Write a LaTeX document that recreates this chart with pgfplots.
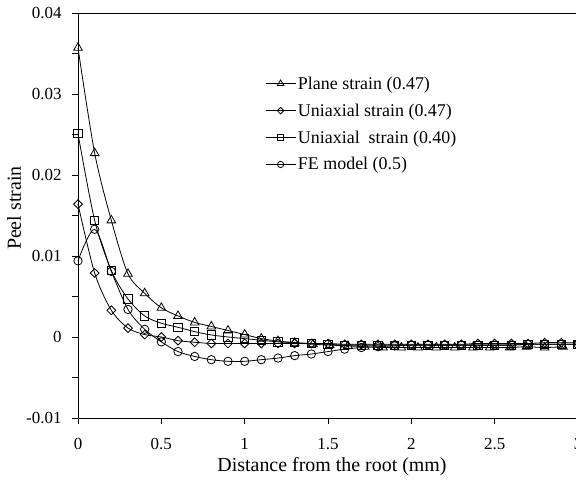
\documentclass[border=0pt]{standalone}
\usepackage{fontspec}
\setmainfont{Liberation Serif}
\usepackage{pgfplots}
\pgfplotsset{compat=1.18}
\begin{document}
\begin{tikzpicture}
\begin{axis}[
  at={(0,0)}, anchor=south west,
  scale only axis, width=500bp, height=405bp,
  xmin=0, xmax=3, ymin=-0.01, ymax=0.04,
  clip=false,
  axis line style={line width=0.9bp},
  xtick={0,0.5,1,1.5,2,2.5,3},
  xticklabels={0,0.5,1,1.5,2,2.5,3},
  ytick={-0.01,0,0.01,0.02,0.03,0.04},
  yticklabels={-0.01,0,0.01,0.02,0.03,0.04},
  minor ytick={-0.005,0.005,0.015,0.025,0.035},
  scaled y ticks=false, scaled x ticks=false,
  tick align=outside, xtick pos=bottom, ytick pos=left,
  major tick length=6bp, minor tick length=6bp,
  tick style={line width=0.9bp, black},
  /pgf/number format/assume math mode=true,
  tick label style={font=\fontsize{17}{17}\selectfont},
  yticklabel style={anchor=east, xshift=-7bp},
  xticklabel style={yshift=-11bp},
  every axis x label/.style={at={(axis description cs:0.508,-0.121)},anchor=center},
  every axis y label/.style={at={(axis description cs:-0.128,0.518)},rotate=90,anchor=center},
  label style={font=\fontsize{20}{20}\selectfont},
  xlabel={Distance from the root (mm)},
  ylabel={Peel strain},
  legend style={at={(axis description cs:0.374,0.848)}, anchor=north west, draw=none, fill=none,
    font=\fontsize{18}{18}\selectfont, row sep=9bp, inner sep=0pt},
  legend cell align=left,
  legend image code/.code={\draw[mark repeat=2,mark phase=2,#1,/tikz/every mark/.append style={scale=0.75}] plot coordinates {(0bp,0bp) (15bp,0bp) (30bp,0bp)};},
  every axis plot/.append style={black, line width=0.8bp, smooth, tension=0.5},
]
\addplot[mark=triangle, mark size=5bp, mark options={solid, line width=0.8bp}] coordinates {
(0,0.0357) (0.1,0.0227) (0.2,0.0144) (0.3,0.0078) (0.4,0.0054) (0.5,0.0036)
(0.6,0.0026) (0.7,0.0018) (0.8,0.0013) (0.9,0.0008) (1.0,0.0003) (1.1,-0.0002)
(1.2,-0.0005) (1.3,-0.0007) (1.41,-0.0009) (1.51,-0.0010) (1.62,-0.0011) (1.72,-0.0012)
(1.83,-0.0013) (1.94,-0.0013) (2.04,-0.0013) (2.15,-0.0013) (2.26,-0.0013) (2.37,-0.0013)
(2.47,-0.0013) (2.59,-0.0013) (2.69,-0.0012) (2.80,-0.0013) (2.91,-0.0012)
};
\addlegendentry{Plane strain (0.47)}
\addplot[mark=square, mark size=3.1bp, mark options={solid, rotate=45, line width=0.8bp}] coordinates {
(0,0.0164) (0.1,0.0079) (0.2,0.0033) (0.3,0.0011) (0.4,0.0003) (0.5,0.0000)
(0.6,-0.00045) (0.7,-0.00065) (0.8,-0.0008) (0.9,-0.0008) (1.0,-0.0008) (1.1,-0.0008)
(1.2,-0.0008) (1.3,-0.0008) (1.4,-0.0008) (1.5,-0.0008) (1.6,-0.0009) (1.7,-0.0009)
(1.8,-0.0009) (1.9,-0.0009) (2.0,-0.0009) (2.1,-0.0009) (2.2,-0.0009) (2.3,-0.0009)
(2.4,-0.0008) (2.5,-0.0008) (2.6,-0.0008) (2.7,-0.0008) (2.8,-0.0007) (2.9,-0.0007) (3.0,-0.0007)
};
\addlegendentry{Uniaxial strain (0.47)}
\addplot[mark=square, mark size=4.2bp, mark options={solid, line width=0.8bp}] coordinates {
(0,0.0251) (0.1,0.0144) (0.2,0.0082) (0.3,0.0047) (0.4,0.0026) (0.5,0.0017)
(0.6,0.0012) (0.7,0.00066) (0.8,0.00025) (0.9,0.0000) (1.0,-0.0002) (1.1,-0.0004)
(1.2,-0.0006) (1.3,-0.0007) (1.4,-0.0008) (1.5,-0.0009) (1.6,-0.0010) (1.7,-0.0010)
(1.8,-0.0010) (1.9,-0.0010) (2.0,-0.0010) (2.1,-0.0010) (2.2,-0.0010) (2.3,-0.0010)
(2.4,-0.0010) (2.5,-0.0010) (2.6,-0.0010) (2.7,-0.0009) (2.8,-0.0009) (2.9,-0.0009) (3.0,-0.0009)
};
\addlegendentry{Uniaxial\ \ strain (0.40)}
\addplot[mark=o, mark size=4.2bp, mark options={solid, line width=0.8bp}] coordinates {
(0,0.0094) (0.1,0.0133) (0.2,0.0081) (0.3,0.0034) (0.4,0.00095) (0.5,-0.0006)
(0.6,-0.0018) (0.7,-0.0024) (0.8,-0.0028) (0.9,-0.0030) (1.0,-0.0030) (1.1,-0.0028)
(1.2,-0.0026) (1.3,-0.0023) (1.4,-0.0021) (1.5,-0.0018) (1.6,-0.0015) (1.7,-0.0013)
(1.8,-0.0012) (1.9,-0.0011) (2.0,-0.0010) (2.1,-0.0010) (2.2,-0.0010) (2.3,-0.0010)
(2.4,-0.0010) (2.5,-0.0010) (2.6,-0.0010) (2.7,-0.0009) (2.8,-0.0009) (2.9,-0.0009) (3.0,-0.0009)
};
\addlegendentry{FE model (0.5)}
\end{axis}
\pgfresetboundingbox
\useasboundingbox (-78bp,-64bp) rectangle (498bp,418bp);
\end{tikzpicture}
\end{document}
